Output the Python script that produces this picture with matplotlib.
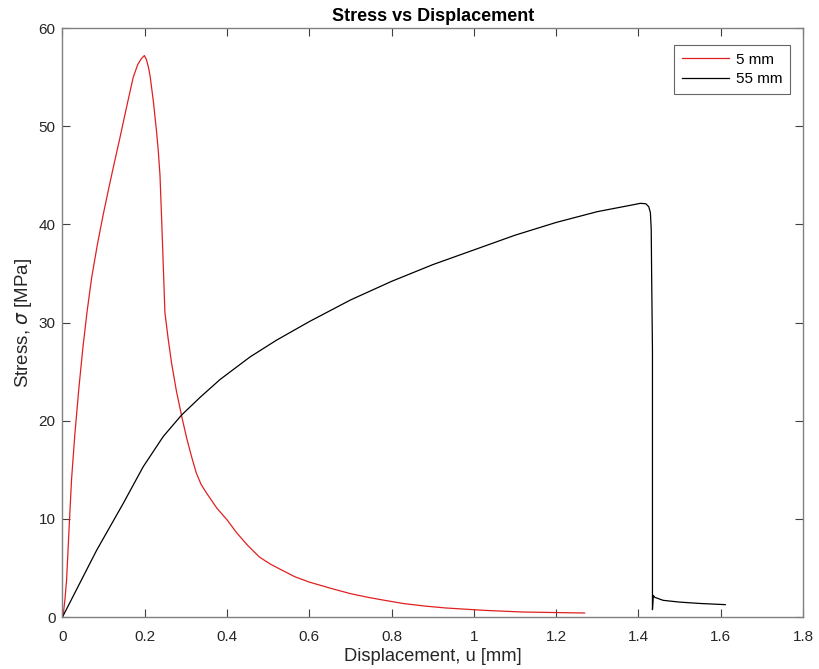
import matplotlib
matplotlib.use("Agg")
import matplotlib.pyplot as plt

plt.rcParams['font.family'] = ['Liberation Sans', 'DejaVu Sans']

# 5 mm specimen
u5 = [0.0, 0.002, 0.006, 0.010, 0.016, 0.022, 0.030, 0.040, 0.050, 0.060, 0.071,
      0.085, 0.099, 0.112, 0.124, 0.140, 0.156, 0.172, 0.183, 0.192,
      0.199, 0.204, 0.209, 0.213, 0.221, 0.229, 0.233, 0.237, 0.241, 0.245, 0.249,
      0.257, 0.265, 0.277, 0.290, 0.302, 0.314, 0.325, 0.337, 0.349, 0.362, 0.375,
      0.400, 0.423, 0.450, 0.479, 0.505, 0.534, 0.565, 0.599, 0.655, 0.700, 0.747,
      0.790, 0.831, 0.880, 0.932, 1.025, 1.118, 1.190, 1.269]
s5 = [0.0, 0.3, 1.8, 3.8, 9.0, 14.0, 18.6, 23.4, 27.6, 31.2, 34.6,
      38.0, 41.0, 43.6, 45.9, 48.9, 52.0, 55.0, 56.3, 56.9,
      57.2, 56.8, 56.0, 55.1, 52.5, 49.3, 47.4, 45.0, 40.5, 35.8, 31.0,
      28.3, 25.9, 23.0, 20.4, 18.2, 16.3, 14.7, 13.5, 12.7, 11.9, 11.1,
      9.9, 8.6, 7.3, 6.1, 5.4, 4.76, 4.1, 3.57, 2.89, 2.38, 1.97,
      1.65, 1.36, 1.12, 0.92, 0.68, 0.51, 0.46, 0.41]

# 55 mm specimen
u55 = [0.0, 0.083, 0.148, 0.196, 0.245, 0.290, 0.335, 0.383, 0.456, 0.520, 0.600,
       0.700, 0.800, 0.900, 1.000, 1.100, 1.200, 1.300, 1.387, 1.405, 1.418, 1.425,
       1.429, 1.431, 1.432, 1.434, 1.434, 1.436, 1.440, 1.460, 1.500, 1.550, 1.611]
s55 = [0.0, 6.8, 11.6, 15.3, 18.4, 20.6, 22.4, 24.2, 26.5, 28.2, 30.1,
       32.3, 34.2, 35.9, 37.4, 38.9, 40.2, 41.3, 42.0, 42.15, 42.1, 41.8,
       41.2, 39.5, 35.0, 27.2, 0.75, 2.2, 2.0, 1.7, 1.52, 1.38, 1.26]

fig = plt.figure(figsize=(8.19, 6.69), dpi=100)
ax = fig.add_axes([0.0763, 0.0777, 0.9042, 0.8803])

ax.plot(u5, s5, color='#e02020', lw=0.9, label='5 mm')
ax.plot(u55, s55, color='black', lw=0.9, label='55 mm')

ax.set_xlim(0, 1.8)
ax.set_ylim(0, 60)
ax.set_xticks([0, 0.2, 0.4, 0.6, 0.8, 1, 1.2, 1.4, 1.6, 1.8])
ax.set_xticklabels(['0', '0.2', '0.4', '0.6', '0.8', '1', '1.2', '1.4', '1.6', '1.8'])
ax.set_yticks([0, 10, 20, 30, 40, 50, 60])

for sp in ax.spines.values():
    sp.set_color('#808080')
    sp.set_linewidth(1.0)
ax.tick_params(direction='in', length=6, width=0.8, color='#404040',
               labelcolor='#262626', labelsize=11, top=True, right=True)
ax.tick_params(axis='x', pad=9)
ax.tick_params(axis='y', pad=5)

ax.set_xlabel('Displacement, u [mm]', fontsize=13.2, color='#262626', labelpad=3)
ax.set_ylabel('Stress, $\\sigma$ [MPa]', fontsize=13.5, color='#262626', labelpad=3)
ax.set_title('Stress vs Displacement', fontsize=13, fontweight='bold', pad=5)

leg = ax.legend(loc='upper right', bbox_to_anchor=(0.9824, 0.9711), borderaxespad=0,
                fontsize=11, frameon=True, fancybox=False, handlelength=3.1,
                handletextpad=0.45, borderpad=0.5, labelspacing=0.35)
leg.get_frame().set_edgecolor('#404040')
leg.get_frame().set_linewidth(0.8)

fig.savefig('out.png', dpi=100)
